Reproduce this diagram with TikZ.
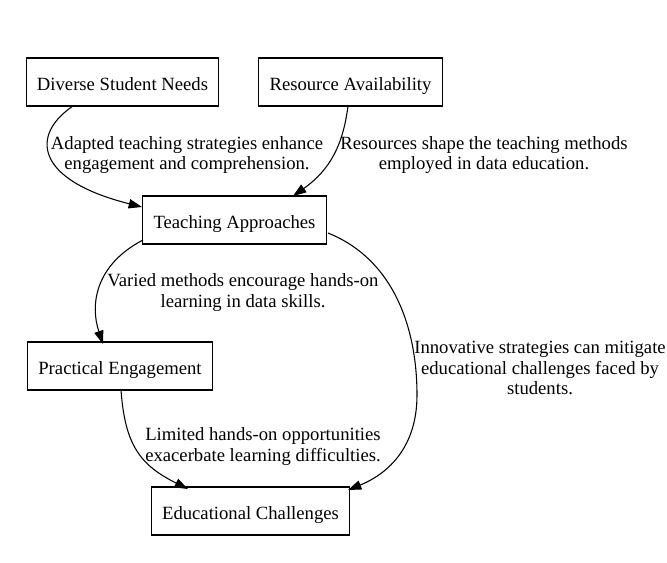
\documentclass[tikz,border=0pt]{standalone}
\usepackage{fontspec}
\setmainfont{Liberation Serif}
\usetikzlibrary{arrows.meta}
\begin{document}
\begin{tikzpicture}[x=0.75pt,y=-0.75pt,
  box/.style={draw=black, line width=0.8pt, rectangle, minimum height=36pt, text height=12.5pt, text depth=0pt, inner xsep=8pt, inner ysep=2pt, font=\fontsize{14pt}{16pt}\selectfont},
  lbl/.style={align=center, inner sep=0pt, font=\fontsize{14pt}{15.5pt}\selectfont},
  conn/.style={draw=black, line width=0.8pt, -{Triangle[length=10pt,width=7pt]}}]
\useasboundingbox (0,0) rectangle (667,562);
\fill[white] (0,0) rectangle (667,562);
\node[box] (dsn) at (122.5,82) {Diverse Student Needs};
\node[box] (ra) at (350.5,82) {Resource Availability};
\node[box] (ta) at (234.5,220) {Teaching Approaches};
\node[box] (pe) at (120,366) {Practical Engagement};
\node[box] (ec) at (250.5,511) {Educational Challenges};

\coordinate (a1) at (73,106);
\coordinate (a2) at (142,207);
\draw[conn] (a1) .. controls (30,135) and (35,180) .. (a2);
\coordinate (b1) at (348,106);
\coordinate (b2) at (293,196);
\draw[conn] (b1) .. controls (343,145) and (330,170) .. (b2);
\coordinate (c1) at (143,240);
\coordinate (c2) at (103,344);
\draw[conn] (c1) .. controls (95,265) and (90,305) .. (c2);
\coordinate (d1) at (328,233);
\coordinate (d2) at (348,490);
\draw[conn] (d1) .. controls (395,260) and (417,330) .. (417,395) .. controls (417,450) and (385,475) .. (d2);
\coordinate (e1) at (121,390);
\coordinate (e2) at (188,489);
\draw[conn] (e1) .. controls (125,445) and (140,465) .. (e2);

\node[lbl] (l1) at (187,155) {Adapted teaching strategies enhance\\engagement and comprehension.};
\node[lbl] (l2) at (484,155) {Resources shape the teaching methods\\employed in data education.};
\node[lbl] (l3) at (243,292.5) {Varied methods encourage hands-on\\learning in data skills.};
\node[lbl] (l4) at (540,368) {Innovative strategies can mitigate\\educational challenges faced by\\students.};
\node[lbl] (l5) at (263,446.5) {Limited hands-on opportunities\\exacerbate learning difficulties.};
\end{tikzpicture}
\end{document}
